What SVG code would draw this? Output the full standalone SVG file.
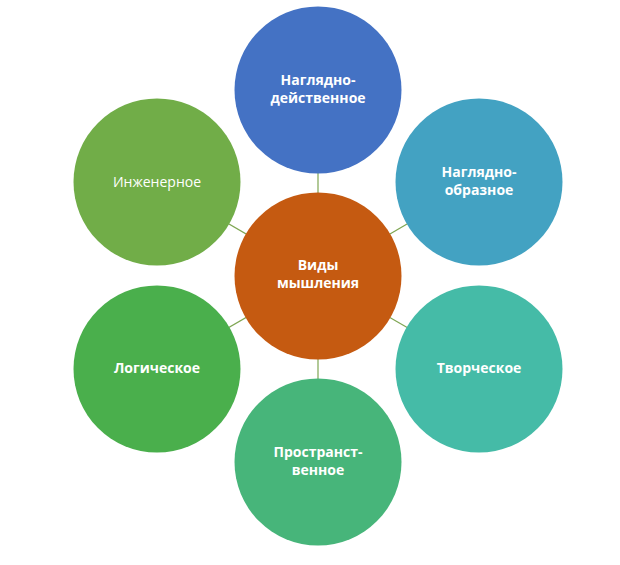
<svg xmlns="http://www.w3.org/2000/svg" width="620" height="565" viewBox="0 0 620 565">
<style>
.lbl{font-family:"Open Sans","Noto Sans","Liberation Sans",sans-serif;font-size:14px;font-weight:bold;fill:#ffffff;text-anchor:middle}
.reg{font-weight:normal}
.con{stroke:#7FA653;stroke-width:1.2;fill:none}
</style>
<rect width="620" height="565" fill="#ffffff"/>
<g id="connectors">
<line class="con" x1="318" y1="276" x2="318" y2="90"/>
<line class="con" x1="318" y1="276" x2="479" y2="182"/>
<line class="con" x1="318" y1="276" x2="479" y2="369"/>
<line class="con" x1="318" y1="276" x2="318" y2="462"/>
<line class="con" x1="318" y1="276" x2="157" y2="369"/>
<line class="con" x1="318" y1="276" x2="157" y2="182"/>
</g>
<g id="node-top">
<circle cx="318" cy="90" r="83.5" fill="#4472C4"/>
<text class="lbl" x="318" y="85">Наглядно-</text>
<text class="lbl" x="318" y="103">действенное</text>
</g>
<g id="node-upper-right">
<circle cx="479" cy="182" r="83.5" fill="#43A2C2"/>
<text class="lbl" x="479" y="177">Наглядно-</text>
<text class="lbl" x="479" y="195">образное</text>
</g>
<g id="node-lower-right">
<circle cx="479" cy="369" r="83.5" fill="#45BBA7"/>
<text class="lbl" x="479" y="373">Творческое</text>
</g>
<g id="node-bottom">
<circle cx="318" cy="462" r="83.5" fill="#47B57A"/>
<text class="lbl" x="318" y="457">Пространст-</text>
<text class="lbl" x="318" y="475">венное</text>
</g>
<g id="node-lower-left">
<circle cx="157" cy="369" r="83.5" fill="#4AAF4C"/>
<text class="lbl" x="157" y="373">Логическое</text>
</g>
<g id="node-upper-left">
<circle cx="157" cy="182" r="83.5" fill="#71AD48"/>
<text class="lbl reg" x="157" y="187">Инженерное</text>
</g>
<g id="node-center">
<circle cx="318" cy="276" r="83.5" fill="#C55A11"/>
<text class="lbl" x="318" y="270">Виды</text>
<text class="lbl" x="318" y="288">мышления</text>
</g>
</svg>
